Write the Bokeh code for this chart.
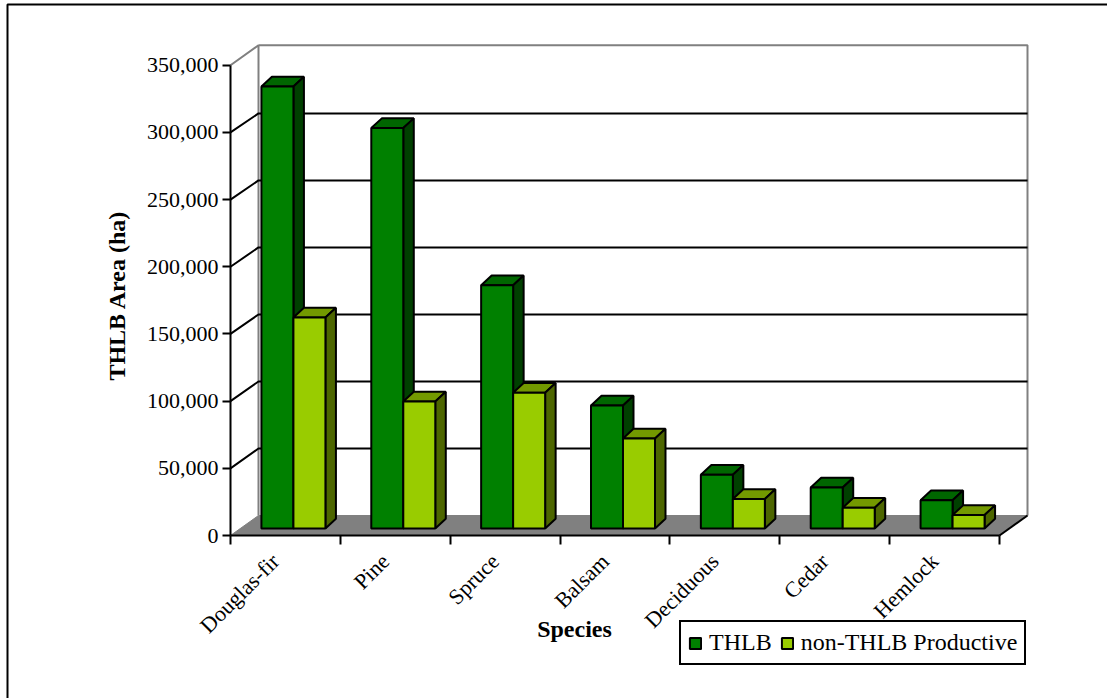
from bokeh.embed import file_html
from bokeh.resources import INLINE
from bokeh.plotting import figure
from bokeh.models import (ColumnDataSource, FixedTicker, Label, LabelSet, Legend, LegendItem,
                          LinearAxis, NumeralTickFormatter, PolyAnnotation, Range1d)
from bokeh.core.properties import value

species = ["Douglas-fir", "Pine", "Spruce", "Balsam", "Deciduous", "Cedar", "Hemlock"]
thlb = [329000, 298000, 181000, 91500, 40000, 30500, 21000]
non_thlb = [157000, 94500, 101000, 67000, 22000, 15500, 10000]
y_ticks = [0, 50000, 100000, 150000, 200000, 250000, 300000, 350000]

SERIF = "Liberation Serif"
GREEN = ("#008000", "#004000", "#006600")
LIME = ("#99CC00", "#4D6600", "#739900")

# Page geometry: the frame fills the page, with category 0 / value 0 at this origin
W, H = 1107, 698
ORIGIN_X, ORIGIN_Y = 230, 535
PX_PER_CAT = 769 / len(species)
PX_PER_VAL = 470.3 / y_ticks[-1]


def dx(px):
    return px / PX_PER_CAT


def dy(px):
    return px / PX_PER_VAL


# Oblique depth of the box, and how far into it the columns stand
WALL_X, WALL_Y = dx(28), dy(20)
BACK_SCALE = 0.9975
FRONT_X, FRONT_Y = dx(8), dy(7)
DEPTH_X, DEPTH_Y = dx(10.5), dy(9.7)
BAR_W = dx(32)

n = len(species)
p = figure(
    width=W, height=H, output_backend="svg", toolbar_location=None,
    x_range=Range1d(dx(-ORIGIN_X), dx(W - ORIGIN_X)),
    y_range=Range1d(dy(ORIGIN_Y - H), dy(ORIGIN_Y)),
    min_border=0, x_axis_type=None, y_axis_type=None,
)
p.outline_line_color = None
p.grid.visible = False
p.background_fill_color = "white"
p.border_fill_color = "white"

# Floor and walls of the box
top = y_ticks[-1]
p.patch([0, n, n + WALL_X, WALL_X], [0, 0, WALL_Y, WALL_Y], fill_color="#808080", line_color="#808080")
p.multi_line(
    xs=[[0, WALL_X, WALL_X], [WALL_X, n + WALL_X, n + WALL_X]],
    ys=[[top, top + WALL_Y, WALL_Y], [top + WALL_Y, top + WALL_Y, WALL_Y]],
    line_color="#808080", line_width=2,
)

# Gridlines run along the back wall and step down the side wall to the axis
grid_xs = [[0, WALL_X, n + WALL_X] for t in y_ticks[1:-1]]
grid_ys = [[t, t * BACK_SCALE + WALL_Y, t * BACK_SCALE + WALL_Y] for t in y_ticks[1:-1]]
p.multi_line(grid_xs, grid_ys, line_color="black", line_width=2)
p.line([n, n + WALL_X], [0, WALL_Y], line_color="black", line_width=2)


def column(values, offset, colors):
    """Draw one series as oblique boxes: top and side faces, then the front."""
    lefts = [i + 0.5 + FRONT_X + offset for i in range(len(values))]
    rights = [l + BAR_W for l in lefts]
    tops = [v + FRONT_Y for v in values]
    p.patches(
        [[l, l + DEPTH_X, r + DEPTH_X, r] for l, r in zip(lefts, rights)],
        [[t, t + DEPTH_Y, t + DEPTH_Y, t] for t in tops],
        fill_color=colors[2], line_color="black", line_width=2,
    )
    p.patches(
        [[r, r + DEPTH_X, r + DEPTH_X, r] for r in rights],
        [[t, t + DEPTH_Y, FRONT_Y + DEPTH_Y, FRONT_Y] for t in tops],
        fill_color=colors[1], line_color="black", line_width=2,
    )
    return p.quad(left=lefts, right=rights, bottom=[FRONT_Y] * len(values), top=tops,
                  fill_color=colors[0], line_color="black", line_width=2)


r_thlb = column(thlb, -BAR_W, GREEN)
r_non = column(non_thlb, 0, LIME)

# Axes sit inside the page-sized frame, pinned at the origin
y_axis = LinearAxis(
    fixed_location=0, bounds=(y_ticks[0], y_ticks[-1]), ticker=FixedTicker(ticks=y_ticks),
    formatter=NumeralTickFormatter(format="0,0"),
    axis_line_color="black", axis_line_width=2,
    major_tick_line_color="black", major_tick_line_width=2,
    major_tick_out=8, major_tick_in=0, minor_tick_out=0, minor_tick_in=0,
    major_label_text_font=SERIF, major_label_text_font_size="22px",
    major_label_text_color="black", major_label_standoff=4,
)
p.add_layout(y_axis, "left")

x_axis = LinearAxis(
    fixed_location=0, bounds=(0, n), ticker=FixedTicker(ticks=list(range(n + 1))),
    major_label_text_font_size="0px", major_label_text_color=None,
    axis_line_color="black", axis_line_width=2,
    major_tick_line_color="black", major_tick_line_width=2,
    major_tick_out=9, major_tick_in=0, minor_tick_out=0, minor_tick_in=0,
)
p.add_layout(x_axis, "below")

# Slanted category names, ending just left of the middle of each category
names = ColumnDataSource(dict(x=[i + 0.5 for i in range(n)], y=[0] * n, name=species))
p.add_layout(LabelSet(
    x="x", y="y", text="name", source=names, x_offset=-10, y_offset=-22,
    angle=45, angle_units="deg", text_align="right", text_baseline="middle",
    text_font=value(SERIF), text_font_size="22px", text_color="black",
))

p.add_layout(Label(
    x=dx(574 - ORIGIN_X), y=dy(ORIGIN_Y - 628), text="Species", text_align="center",
    text_baseline="middle", text_font=SERIF, text_font_size="24px",
    text_font_style="bold", text_color="black",
))
p.add_layout(Label(
    x=dx(116 - ORIGIN_X), y=dy(ORIGIN_Y - 295), text="THLB Area (ha)", angle=90, angle_units="deg",
    text_align="center", text_baseline="middle", text_font=SERIF, text_font_size="24px",
    text_font_style="bold", text_color="black",
))

legend = Legend(
    items=[LegendItem(label="THLB", renderers=[r_thlb]),
           LegendItem(label="non-THLB Productive", renderers=[r_non])],
    orientation="horizontal", location=(679, H - 665), margin=0, padding=7, spacing=8,
    glyph_width=14, glyph_height=14, label_standoff=7, label_height=24,
    label_text_font=SERIF, label_text_font_size="24px", label_text_color="black",
    border_line_color="black", border_line_width=2, border_line_alpha=1,
    background_fill_color="white", background_fill_alpha=1,
)
p.add_layout(legend, "center")

# Page rule along the top and left edges; its other two sides lie past the page
p.add_layout(PolyAnnotation(
    xs=[dx(7 - ORIGIN_X), dx(W + 50 - ORIGIN_X), dx(W + 50 - ORIGIN_X), dx(7 - ORIGIN_X)],
    ys=[dy(ORIGIN_Y - 4), dy(ORIGIN_Y - 4), dy(ORIGIN_Y - H - 50), dy(ORIGIN_Y - H - 50)],
    fill_alpha=0, line_color="black", line_width=2, line_alpha=1,
))

open("out.html", "w").write(file_html(p, INLINE))
